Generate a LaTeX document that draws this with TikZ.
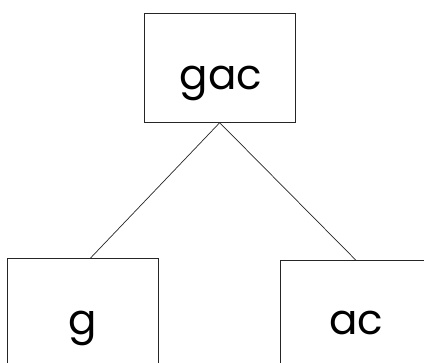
\documentclass[tikz,border=0pt]{standalone}
\usepackage{fontspec}
\setmainfont{Poppins}
\usetikzlibrary{calc}
\begin{document}
\begin{tikzpicture}[x=1pt,y=-1pt,
  box/.style={draw=black!85,line width=0.8pt,inner sep=0pt,minimum width=151pt},
  lbl/.style={font=\fontsize{42}{46}\selectfont,inner sep=0pt,anchor=base},
  edge/.style={draw=black!85,line width=0.7pt}]
\useasboundingbox (0,0) rectangle (424,363);
\clip (0,0) rectangle (424,363);
\node[box,minimum height=109pt] (top) at (219.7,67.8) {};
\node[box,minimum height=130pt] (left) at (82.8,323.7) {};
\node[box,minimum height=130pt] (right) at (356,325.7) {};
\node[lbl] (ttop) at (221,90) {gac};
\node[lbl] (tleft) at (83,335) {g};
\node[lbl] (tright) at (356,335) {ac};
\draw[edge] (top.south) -- ([xshift=7.5pt]left.north);
\draw[edge] (top.south) -- (right.north);
\end{tikzpicture}
\end{document}
